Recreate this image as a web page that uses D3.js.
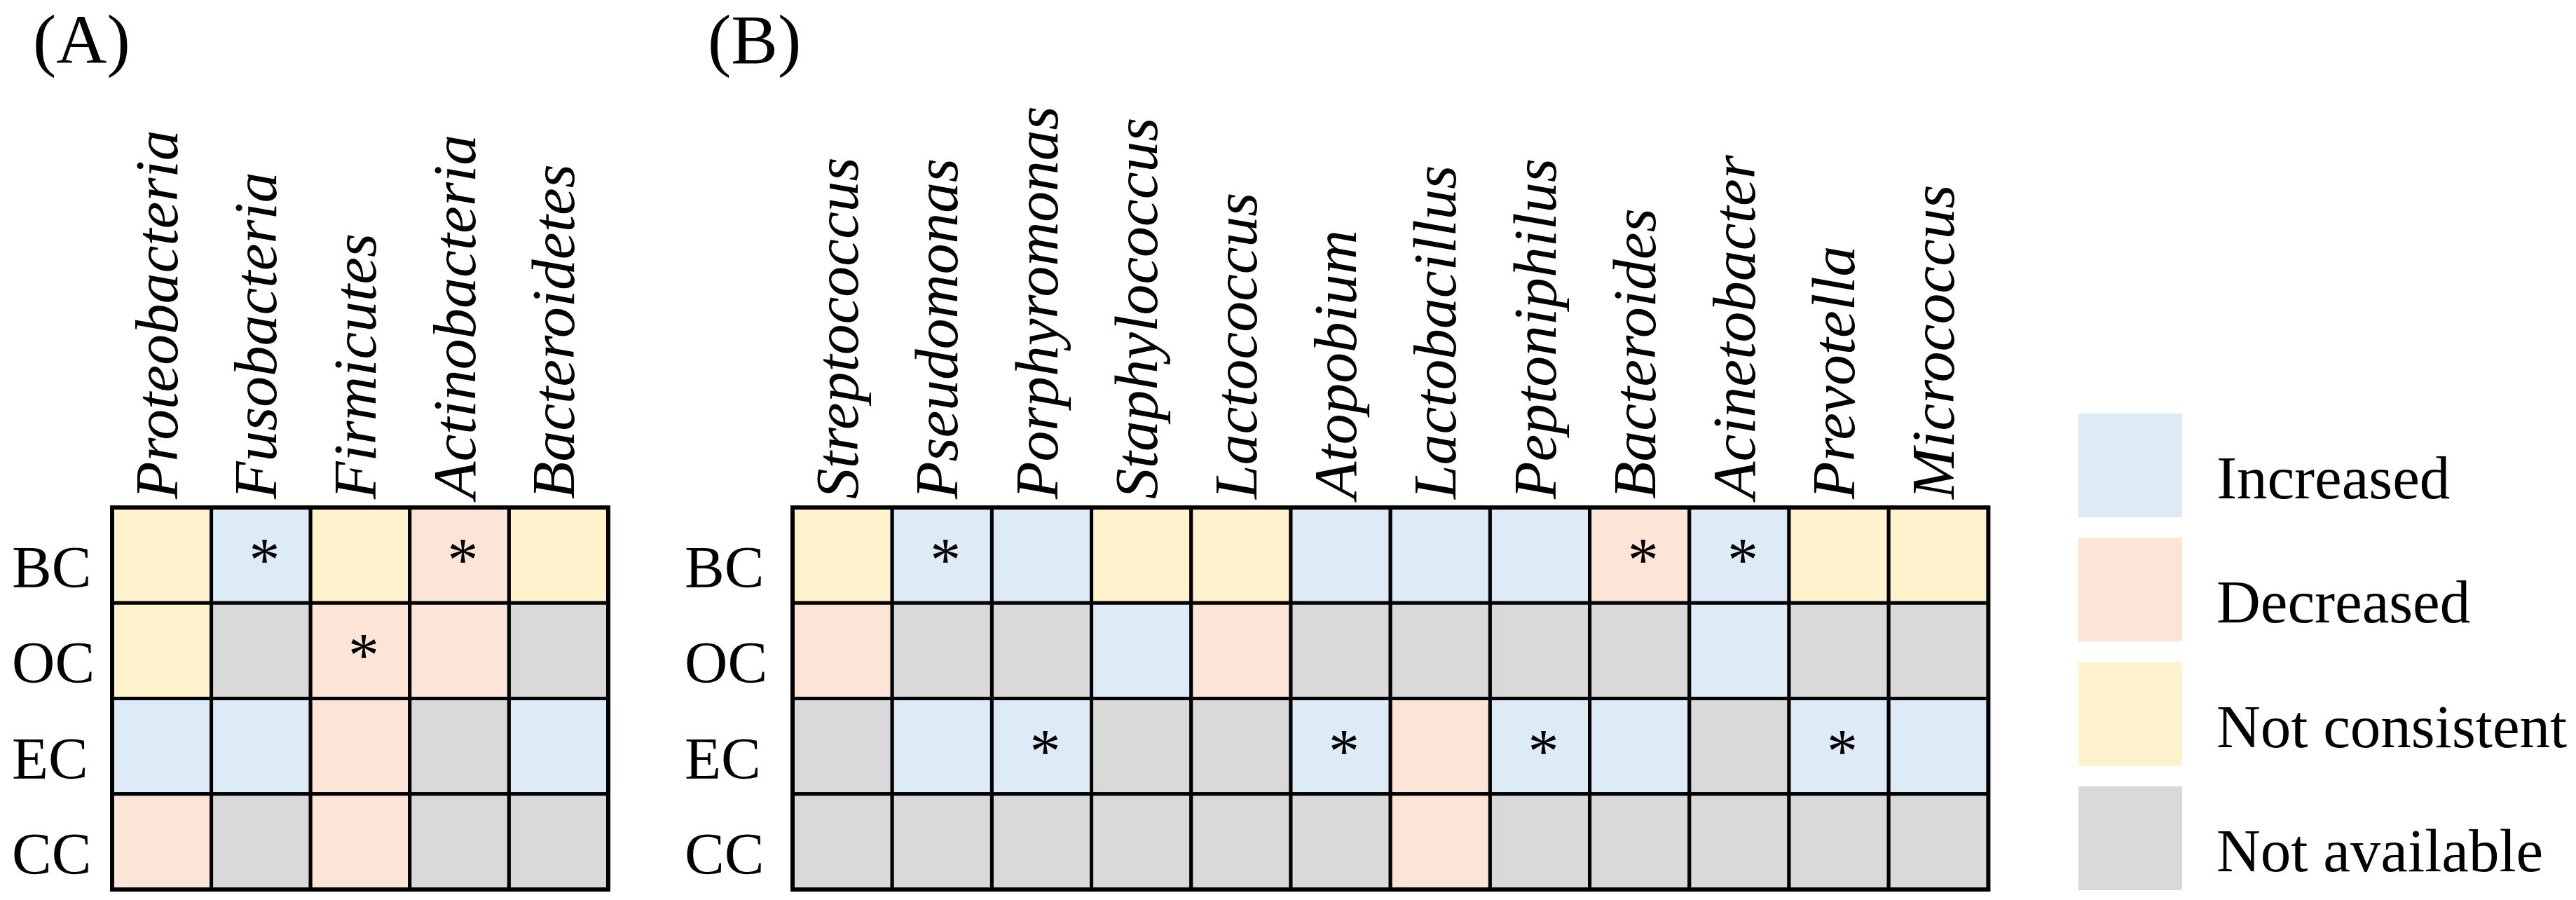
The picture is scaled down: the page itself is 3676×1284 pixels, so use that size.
<!DOCTYPE html>
<html>
<head>
<meta charset="utf-8">
<script src="https://cdn.jsdelivr.net/npm/d3@7"></script>
<style>
  body { margin: 0; background: #fff; }
  text { font-family: 'Liberation Serif', 'Times New Roman', serif; fill: #000; }
</style>
</head>
<body>
<script>
/* DATA */
const sites = ['BC', 'OC', 'EC', 'CC'];

const categories = ['Increased', 'Decreased', 'Not consistent', 'Not available'];
const categoryColors = ['#ddebf7', '#fce4d6', '#fff2cc', '#d9d9d9'];

// I = increased, D = decreased, N = not consistent, X = not available
const phyla = ['Proteobacteria', 'Fusobacteria', 'Firmicutes', 'Actinobacteria', 'Bacteroidetes'];
const phylaBC = ['N', 'I', 'N', 'D', 'N'];
const phylaOC = ['N', 'X', 'D', 'D', 'X'];
const phylaEC = ['I', 'I', 'D', 'X', 'I'];
const phylaCC = ['D', 'X', 'D', 'X', 'X'];
const phylaStars = [['BC', 'Fusobacteria'], ['BC', 'Actinobacteria'], ['OC', 'Firmicutes']];

const genera = ['Streptococcus', 'Pseudomonas', 'Porphyromonas', 'Staphylococcus', 'Lactococcus',
  'Atopobium', 'Lactobacillus', 'Peptoniphilus', 'Bacteroides', 'Acinetobacter', 'Prevotella', 'Micrococcus'];
const generaBC = ['N', 'I', 'I', 'N', 'N', 'I', 'I', 'I', 'D', 'I', 'N', 'N'];
const generaOC = ['D', 'X', 'X', 'I', 'D', 'X', 'X', 'X', 'X', 'I', 'X', 'X'];
const generaEC = ['X', 'I', 'I', 'X', 'X', 'I', 'D', 'I', 'I', 'X', 'I', 'I'];
const generaCC = ['X', 'X', 'X', 'X', 'X', 'X', 'D', 'X', 'X', 'X', 'X', 'X'];
const generaStars = [['BC', 'Pseudomonas'], ['BC', 'Bacteroides'], ['BC', 'Acinetobacter'],
  ['EC', 'Porphyromonas'], ['EC', 'Atopobium'], ['EC', 'Peptoniphilus'], ['EC', 'Prevotella']];

const codes = ['I', 'D', 'N', 'X'];

/* SETUP */
const W = 3676;
const H = 1284;

const svg = d3.select('body')
  .append('svg')
  .attr('width', W)
  .attr('height', H)
  .attr('viewBox', [0, 0, W, H]);

const color = d3.scaleOrdinal()
  .domain(codes)
  .range(categoryColors);

const yScale = d3.scaleBand()
  .domain(sites)
  .range([724, 1269]);

function drawPanel(opts) {
  const { title, titleX, labelX, cols, rows, stars, x0, colW } = opts;

  const xScale = d3.scaleBand()
    .domain(cols)
    .range([x0, x0 + colW * cols.length]);

  const g = svg.append('g');

  const cells = [];
  sites.forEach((s, i) => {
    rows[i].forEach((c, j) => cells.push({ site: s, taxon: cols[j], code: c }));
  });

  g.selectAll('rect.cell')
    .data(cells)
    .join('rect')
    .attr('class', 'cell')
    .attr('x', d => xScale(d.taxon))
    .attr('y', d => yScale(d.site))
    .attr('width', xScale.bandwidth())
    .attr('height', yScale.bandwidth())
    .attr('fill', d => color(d.code))
    .attr('stroke', '#000')
    .attr('stroke-width', 5);

  g.append('rect')
    .attr('x', xScale.range()[0])
    .attr('y', yScale.range()[0])
    .attr('width', xScale.range()[1] - xScale.range()[0])
    .attr('height', yScale.range()[1] - yScale.range()[0])
    .attr('fill', 'none')
    .attr('stroke', '#000')
    .attr('stroke-width', 6);

  // significance marks
  g.selectAll('text.star')
    .data(stars)
    .join('text')
    .attr('class', 'star')
    .attr('x', d => xScale(d[1]) + xScale.bandwidth() / 2 + 5)
    .attr('y', d => yScale(d[0]) + yScale.bandwidth() / 2 + 36)
    .attr('text-anchor', 'middle')
    .attr('font-size', 88)
    .text('*');

  // taxon labels, rotated
  g.selectAll('text.col')
    .data(cols)
    .join('text')
    .attr('class', 'col')
    .attr('transform', d => `translate(${xScale(d) + xScale.bandwidth() / 2 + 22} 712) rotate(-90)`)
    .attr('font-size', 87.5)
    .attr('font-style', 'italic')
    .text(d => d);

  // site labels
  g.selectAll('text.row')
    .data(sites)
    .join('text')
    .attr('class', 'row')
    .attr('x', labelX)
    .attr('y', d => yScale(d) + yScale.bandwidth() / 2 + 46)
    .attr('font-size', 85)
    .text(d => d);

  svg.append('text')
    .attr('x', titleX)
    .attr('y', 90)
    .attr('font-size', 100)
    .text(title);
}

drawPanel({
  title: '(A)', titleX: 47, labelX: 17,
  cols: phyla, rows: [phylaBC, phylaOC, phylaEC, phylaCC], stars: phylaStars,
  x0: 160, colW: 141.6,
});

drawPanel({
  title: '(B)', titleX: 1010, labelX: 977,
  cols: genera, rows: [generaBC, generaOC, generaEC, generaCC], stars: generaStars,
  x0: 1131, colW: 142.2,
});

/* LEGEND */
const legendY = d3.scalePoint()
  .domain(categories)
  .range([590, 1122]);

const legend = svg.append('g')
  .selectAll('g')
  .data(categories)
  .join('g');

legend.append('rect')
  .attr('x', 2966)
  .attr('y', d => legendY(d))
  .attr('width', 148)
  .attr('height', 148)
  .attr('fill', (d, i) => categoryColors[i]);

legend.append('text')
  .attr('x', 3163)
  .attr('y', d => legendY(d) + 121)
  .attr('font-size', 87)
  .text(d => d);
</script>
</body>
</html>
